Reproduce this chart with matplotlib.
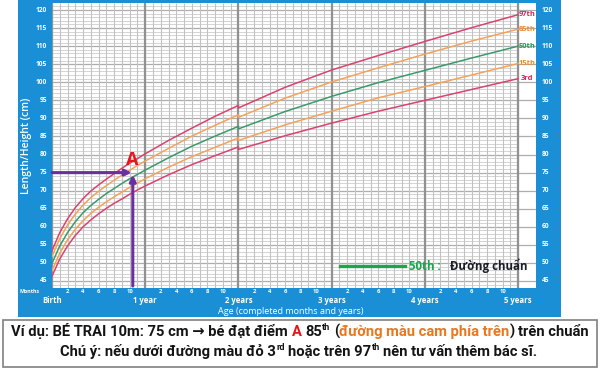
#!/usr/bin/env python3
# -*- coding: utf-8 -*-
"""
WHO length/height-for-age chart (boys, 0-5 years) with an example point.
"""

import matplotlib
matplotlib.use('Agg')
import matplotlib.pyplot as plt
from matplotlib.patches import Rectangle
from matplotlib.lines import Line2D
from matplotlib.transforms import blended_transform_factory
import numpy as np

plt.rcParams['font.family'] = ['Open Sans', 'DejaVu Sans']

# age in months (24 appears twice: length -> height switch)
MONTHS = [0, 1, 2, 3, 4, 5, 6, 7, 8, 9, 10, 11, 12, 15, 18, 21, 24, 24,
          30, 36, 42, 48, 54, 60]
P3 = [46.3, 51.1, 54.7, 57.6, 60.0, 61.9, 63.6, 65.1, 66.5, 67.7, 69.0, 70.2,
      71.3, 74.4, 77.2, 79.7, 82.1, 81.4, 85.2, 88.7, 92.0, 95.0, 98.0, 101.0]
P15 = [47.9, 52.7, 56.4, 59.3, 61.7, 63.7, 65.4, 66.9, 68.3, 69.6, 70.9, 72.1,
       73.3, 76.5, 79.4, 82.0, 84.6, 83.9, 88.2, 92.0, 95.7, 98.8, 102.0, 105.2]
P50 = [49.9, 54.7, 58.4, 61.4, 63.9, 65.9, 67.6, 69.2, 70.6, 72.0, 73.3, 74.5,
       75.7, 79.1, 82.3, 85.1, 87.8, 87.1, 91.9, 96.1, 99.9, 103.3, 106.7, 110.0]
P85 = [51.8, 56.7, 60.5, 63.5, 66.0, 68.1, 69.8, 71.4, 72.9, 74.3, 75.6, 77.0,
       78.2, 81.7, 85.1, 88.1, 91.0, 90.3, 95.6, 100.1, 104.0, 107.8, 111.4, 114.7]
P97 = [53.4, 58.4, 62.2, 65.3, 67.8, 69.9, 71.6, 73.2, 74.7, 76.2, 77.6, 78.9,
       80.2, 83.9, 87.3, 90.6, 93.6, 92.9, 98.6, 103.4, 107.4, 111.3, 115.1, 118.7]

CURVES = [('97th', P97), ('85th', P85), ('50th', P50), ('15th', P15), ('3rd', P3)]
YEAR_LABELS = ['Birth', '1 year', '2 years', '3 years', '4 years', '5 years']

# example point: boy, 10 months, 75 cm
EX_AGE = 10.3
EX_HEIGHT = 75

BLUE = '#1b8fd6'
PINK = '#d8436f'
ORANGE = '#f4a25a'
GREEN = '#3a9a6a'
LINE_COL = {'97th': PINK, '85th': ORANGE, '50th': GREEN, '15th': ORANGE, '3rd': PINK}
LABEL_COL = {'97th': '#d2245a', '85th': '#ee8a2a', '50th': '#1f9a55',
             '15th': '#ee8a2a', '3rd': '#d2245a'}
PURPLE = '#6b2fa0'

W, H = 600, 369


def fx(px):
    return px / W


def fy(py):
    return 1 - py / H


def make_segments(fig, segs, y_px, size, family):
    items = []
    for s, color, sup, gap in segs:
        t = fig.text(0, fy(y_px), s, color=color, fontsize=size * 0.62 if sup else size,
                     fontweight='bold', va='baseline', family=family)
        items.append((t, sup, gap))
    return items


def line_width(fig, items, size, family):
    renderer = fig.canvas.get_renderer()
    probe = fig.text(0, 0, 'a a', fontsize=size, fontweight='bold', family=family)
    probe2 = fig.text(0, 0, 'aa', fontsize=size, fontweight='bold', family=family)
    space = probe.get_window_extent(renderer).width - probe2.get_window_extent(renderer).width
    probe.remove()
    probe2.remove()
    widths = [t.get_window_extent(renderer).width for t, _, _ in items]
    total = sum(widths) + space * sum(1 for _, _, g in items if g)
    return widths, space, total


def draw_segments(fig, segs, y_px, cx_px, size, family):
    """Centered line of text made of coloured pieces; sup pieces are raised."""
    items = make_segments(fig, segs, y_px, size, family)
    widths, space, total = line_width(fig, items, size, family)
    x = cx_px - total / 2
    for (t, sup, gap), w in zip(items, widths):
        t.set_x(fx(x))
        if sup:
            t.set_y(fy(y_px - size * 0.55))
        x += w + (space if gap else 0)


def fit_size(fig, segs, size, family, target):
    items = make_segments(fig, segs, 0, size, family)
    _, _, total = line_width(fig, items, size, family)
    for t, _, _ in items:
        t.remove()
    return size * target / total


def main():
    fig = plt.figure(figsize=(6, 3.69), dpi=100)
    fig.patch.set_facecolor('white')

    # blue frame around the chart
    for x0, y0, x1, y1 in [(18, 0, 52, 317), (536, 0, 561, 317),
                           (18, 288, 561, 317), (18, 0, 561, 3)]:
        fig.add_artist(Rectangle((fx(x0), fy(y1)), fx(x1 - x0), (y1 - y0) / H,
                                 transform=fig.transFigure, color=BLUE, lw=0, zorder=-1))

    ax = fig.add_axes([fx(52), fy(288), fx(536 - 52), (288 - 3) / H])
    ax.set_xlim(0, 62.3)
    ax.set_ylim(43.06, 121.94)
    for sp in ax.spines.values():
        sp.set_visible(False)
    ax.set_xticks([])
    ax.set_yticks([])

    # grid
    ax.hlines(np.arange(44, 122), 0, 60, color='#cdcdcd', lw=0.6, zorder=1)
    ax.hlines(np.arange(45, 121, 5), 0, 62.3, color='#adadad', lw=0.9, zorder=1)
    ax.vlines(np.arange(0, 61), 43.06, 121.94, color='#c2c2c2', lw=0.8, zorder=1)
    ax.vlines(np.arange(0, 61, 12), 43.06, 121.94, color='#919191', lw=1.6, zorder=1)

    # percentile curves + labels
    for name, vals in CURVES:
        ax.plot(MONTHS, vals, color=LINE_COL[name], lw=1.1, zorder=3)
        ax.text(61.15, vals[-1], name, color=LABEL_COL[name], fontsize=5.4,
                fontweight='bold', ha='center', va='center', zorder=4)

    # y tick labels in the blue bands
    ty = blended_transform_factory(fig.transFigure, ax.transData)
    for v in range(45, 121, 5):
        ax.text(fx(47), v, str(v), transform=ty, color='white', fontsize=4.8,
                fontweight='bold', ha='right', va='center', clip_on=False)
        ax.text(fx(542), v, str(v), transform=ty, color='white', fontsize=4.8,
                fontweight='bold', ha='left', va='center', clip_on=False)
    fig.text(fx(27), fy(146), 'Length/Height (cm)', rotation=90, color='white',
             fontsize=7.5, fontweight='semibold', ha='center', va='center')

    # x labels in the bottom band
    tx = blended_transform_factory(ax.transData, fig.transFigure)
    for m in range(2, 60, 2):
        if m % 12:
            ax.text(m, fy(291.5), str(m % 12), transform=tx, color='white', fontsize=4.2,
                    fontweight='bold', ha='center', va='center', clip_on=False)
    for i, lab in enumerate(YEAR_LABELS):
        ax.text(i * 12, fy(300.5), lab, transform=tx, color='white', fontsize=5.6,
                fontweight='bold', ha='center', va='center', clip_on=False)
    fig.text(fx(19), fy(291.5), 'Months', color='white', fontsize=3.8,
             fontweight='bold', ha='left', va='center')
    fig.text(fx(291), fy(311), 'Age (completed months and years)', color='white',
             fontsize=6.5, ha='center', va='center')

    # example point A
    ax.annotate('', xy=(EX_AGE - 0.05, EX_HEIGHT), xytext=(0, EX_HEIGHT),
                arrowprops=dict(arrowstyle='-|>', color=PURPLE, lw=2.2,
                                mutation_scale=9, shrinkA=0, shrinkB=0), zorder=5)
    ax.annotate('', xy=(EX_AGE + 0.1, EX_HEIGHT - 0.6), xytext=(EX_AGE + 0.1, 43.6),
                arrowprops=dict(arrowstyle='-|>', color=PURPLE, lw=2.2,
                                mutation_scale=9, shrinkA=0, shrinkB=0), zorder=5)
    ax.text(EX_AGE + 0.05, EX_HEIGHT + 3.6, 'A', color='#e8141c', fontsize=13,
            fontweight='bold', ha='center', va='center', zorder=6)

    # legend
    ax.add_line(Line2D([fx(340), fx(405)], [fy(265.5), fy(265.5)], transform=fig.transFigure,
                       color='#1aa64a', lw=2.4, zorder=6))
    fig.text(fx(409), fy(266), '50th :', color='#1aa64a', fontsize=8.3,
             fontweight='bold', ha='left', va='center')
    fig.text(fx(450), fy(266), 'Đường chuẩn', color='#1c1c28', fontsize=8.3,
             fontweight='bold', ha='left', va='center')

    # note box
    fig.add_artist(Rectangle((fx(3), fy(367)), fx(594), (367 - 320) / H,
                             transform=fig.transFigure, facecolor='white',
                             edgecolor='#808080', lw=1.2))
    fam = ['Roboto', 'DejaVu Sans']
    black = '#141414'
    line1 = [('Ví dụ: BÉ TRAI 10m: 75 cm → bé đạt điểm', black, False, True),
             ('A', '#e8141c', False, True),
             ('85', black, False, False),
             ('th', black, True, True),
             ('(', black, False, False),
             ('đường màu cam phía trên', '#e8771e', False, False),
             (')', black, False, True),
             ('trên chuẩn', black, False, False)]
    line2 = [('Chú ý: nếu dưới đường màu đỏ 3', black, False, False),
             ('rd', black, True, True),
             ('hoặc trên 97', black, False, False),
             ('th', black, True, True),
             ('nên tư vấn thêm bác sĩ.', black, False, False)]
    size = fit_size(fig, line1, 10.5, fam, 579)
    draw_segments(fig, line1, 336, 300, size, fam)
    draw_segments(fig, line2, 356, 299, size, fam)

    fig.savefig('out.png', dpi=100)


if __name__ == '__main__':
    main()
